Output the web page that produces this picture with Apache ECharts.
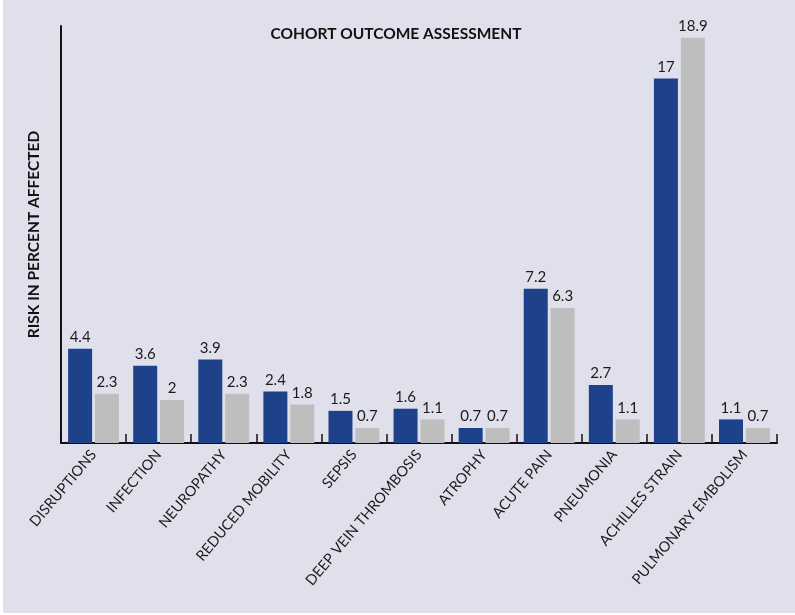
<!DOCTYPE html>
<html>
<head>
<meta charset="utf-8">
<script src="https://cdn.jsdelivr.net/npm/echarts@6/dist/echarts.min.js"></script>
<style>
    html, body { margin: 0; padding: 0; background: #ffffff; }
    #chart { position: absolute; left: 3px; top: 0; width: 792px; height: 613px; background: #e0e0ec; }
</style>
</head>
<body>
<div id="chart"></div>
<script>
// categories and values
let categories = ["DISRUPTIONS", "INFECTION", "NEUROPATHY", "REDUCED MOBILITY", "SEPSIS",
    "DEEP VEIN THROMBOSIS", "ATROPHY", "ACUTE PAIN", "PNEUMONIA", "ACHILLES STRAIN", "PULMONARY EMBOLISM"];
let seriesA = [4.4, 3.6, 3.9, 2.4, 1.5, 1.6, 0.7, 7.2, 2.7, 17, 1.1];
let seriesB = [2.3, 2, 2.3, 1.8, 0.7, 1.1, 0.7, 6.3, 1.1, 18.9, 0.7];

let myChart = echarts.init(document.getElementById('chart'));

let labelStyle = {
    show: true,
    position: 'top',
    distance: 4,
    color: '#1a1a1a',
    fontFamily: 'Lato',
    fontSize: 15
};

option = {
    backgroundColor: '#e0e0ec',
    animation: false,
    title: {
        text: 'COHORT OUTCOME ASSESSMENT',
        left: 388,
        top: 21,
        textAlign: 'center',
        textStyle: {
            fontFamily: 'Lato',
            fontWeight: 'bold',
            fontSize: 15.5,
            color: '#111'
        }
    },
    grid: {
        left: 58,
        right: 18,
        top: 26,
        bottom: 170
    },
    xAxis: {
        type: 'category',
        data: categories,
        axisLine: { lineStyle: { color: '#111', width: 2 } },
        axisTick: { show: true, inside: true, length: 9, lineStyle: { color: '#111', width: 1.5 } },
        axisLabel: {
            rotate: 50,
            interval: 0,
            margin: 9,
            color: '#1a1a1a',
            fontFamily: 'Lato',
            fontSize: 14.5
        }
    },
    yAxis: {
        type: 'value',
        min: 0,
        max: 19.45,
        name: 'RISK IN PERCENT AFFECTED',
        nameLocation: 'middle',
        nameGap: 19,
        nameTextStyle: {
            fontFamily: 'Lato',
            fontWeight: 'bold',
            fontSize: 15.5,
            color: '#111'
        },
        axisLine: { show: true, lineStyle: { color: '#111', width: 2 } },
        axisTick: { show: false },
        axisLabel: { show: false },
        splitLine: { show: false }
    },
    series: [{
        type: 'bar',
        data: seriesA,
        barWidth: 24,
        barGap: '12%',
        itemStyle: { color: '#1e428a' },
        label: labelStyle
    }, {
        type: 'bar',
        data: seriesB,
        barWidth: 24,
        itemStyle: { color: '#bebebe' },
        label: labelStyle
    }]
};

myChart.setOption(option);
</script>
</body>
</html>
